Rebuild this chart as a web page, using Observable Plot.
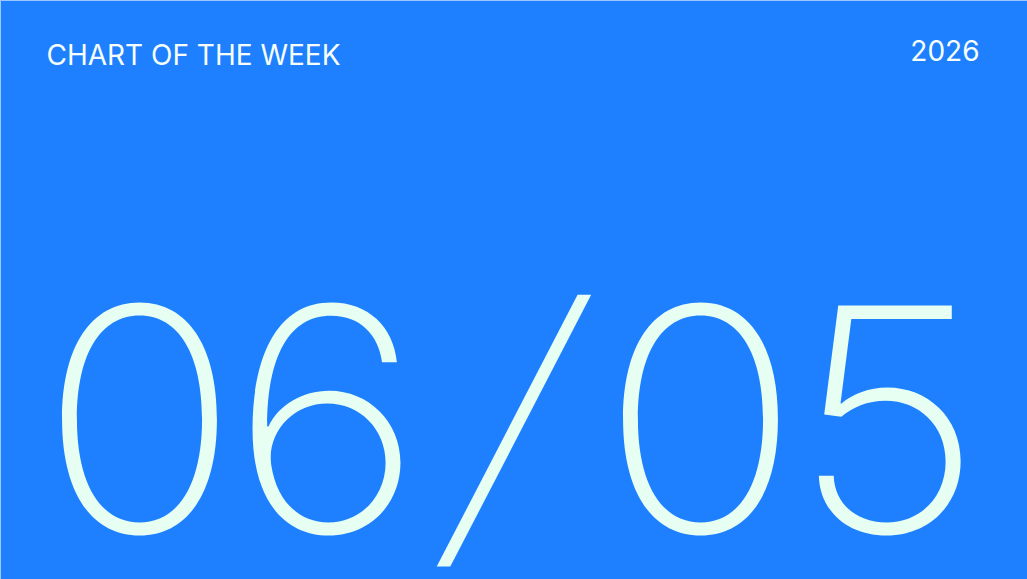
<!DOCTYPE html>
<html>
<head>
<meta charset="utf-8">
<script src="https://cdn.jsdelivr.net/npm/d3@7"></script>
<script src="https://cdn.jsdelivr.net/npm/@observablehq/plot@0.6"></script>
<style>
  html, body { margin: 0; padding: 0; background: #1F80FF; overflow: hidden; }
  #chart svg { display: block; }
</style>
</head>
<body>
<div id="chart"></div>
<script>
const headerLabel = ["CHART OF THE WEEK"];
const yearLabel = ["2026"];
const dateLabel = ["06/05"];

// one entry per glyph of the date, placed on a point scale
const dateChars = dateLabel[0].split("").map((c, i) => ({ i, c }));

const chart = Plot.plot({
  width: 1027,
  height: 579,
  margin: 0,
  x: { type: "point", domain: dateChars.map(d => d.i), range: [138, 887], padding: 0, axis: null },
  style: { background: "#1F80FF", overflow: "visible" },
  marks: [
    Plot.frame({ stroke: "#9CC8FF", strokeWidth: 1 }),
    Plot.text(headerLabel, {
      text: d => d,
      frameAnchor: "top-left",
      textAnchor: "start",
      lineAnchor: "bottom",
      dx: 46, dy: 64,
      fontFamily: "Inter",
      fontSize: 28,
      fontWeight: 400,
      fill: "#F6FFFB"
    }),
    Plot.text(yearLabel, {
      text: d => d,
      frameAnchor: "top-right",
      textAnchor: "end",
      lineAnchor: "bottom",
      dx: -48, dy: 60,
      fontFamily: "Inter",
      fontSize: 28,
      fontWeight: 400,
      fill: "#F6FFFB"
    }),
    Plot.text(dateChars, {
      x: "i",
      text: "c",
      frameAnchor: "bottom",
      textAnchor: "middle",
      lineAnchor: "bottom",
      dy: -47,
      fontFamily: "Inter",
      fontSize: 312,
      fontWeight: 200,
      fill: "#E6FFF2",
      ariaDescription: "date"
    })
  ]
});

// widen the light glyphs slightly and lean the separator (about its mid-height) like the reference type
d3.select(chart).selectAll('g[aria-description="date"] text').each(function () {
  const t = d3.select(this);
  const base = t.attr("transform") || "";
  const extra = t.text() === "/"
    ? " translate(0,-100) skewX(-14) translate(0,100)"
    : " scale(1.06,1)";
  t.attr("transform", base + extra);
});

document.getElementById("chart").append(chart);
</script>
</body>
</html>
